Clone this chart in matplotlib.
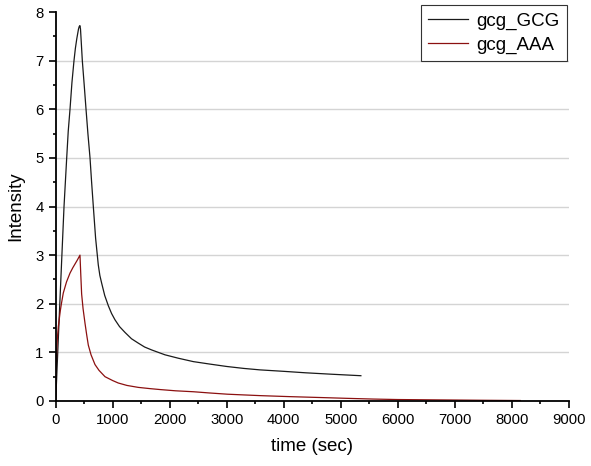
import matplotlib
matplotlib.use("Agg")
import matplotlib.pyplot as plt
from matplotlib.ticker import MultipleLocator

# ---- data ----
gcg_GCG_t = [0, 50, 105, 146, 193, 220, 251, 285, 321, 345, 370, 400, 412, 425,
             435, 445, 467, 500, 532, 565, 602, 630, 660, 700, 747, 775, 807, 860,
             923, 980, 1040, 1120, 1216, 1330, 1449, 1560, 1684, 1800, 1917, 2150,
             2414, 2700, 3000, 3300, 3584, 4000, 4384, 4850, 5354]
gcg_GCG_y = [0.0, 1.4, 2.9, 4.0, 5.0, 5.55, 6.0, 6.55, 7.0, 7.25, 7.45, 7.65, 7.70, 7.72,
             7.65, 7.45, 7.0, 6.5, 6.0, 5.5, 5.0, 4.5, 4.0, 3.35, 2.8, 2.58, 2.42, 2.17,
             1.96, 1.80, 1.67, 1.53, 1.41, 1.28, 1.19, 1.11, 1.05, 1.00, 0.95, 0.88,
             0.81, 0.76, 0.71, 0.67, 0.64, 0.61, 0.58, 0.55, 0.52]

gcg_AAA_t = [0, 5, 10, 18, 30, 46, 80, 100, 133, 190, 251, 300, 340, 380, 426,
             440, 455, 480, 514, 545, 572, 620, 689, 760, 865, 1000, 1098, 1250,
             1449, 1650, 1834, 2100, 2421, 2700, 3011, 3300, 3598, 4100, 4686,
             5100, 5568, 6000, 6500, 7000, 7500, 8150]
gcg_AAA_y = [0.0, 0.45, 0.75, 1.05, 1.3, 1.53, 1.85, 2.0, 2.22, 2.45, 2.63, 2.74, 2.82, 2.9, 3.0,
             2.6, 2.2, 1.9, 1.6, 1.35, 1.15, 0.95, 0.75, 0.63, 0.50, 0.42, 0.37, 0.32,
             0.28, 0.255, 0.235, 0.21, 0.19, 0.165, 0.14, 0.125, 0.11, 0.09, 0.07,
             0.055, 0.04, 0.03, 0.025, 0.02, 0.015, 0.01]

series_labels = ["gcg_GCG", "gcg_AAA"]
x_label = "time (sec)"
y_label = "Intensity"
grid_levels = [1, 2, 3, 4, 5, 6, 7]

plt.rcParams['font.family'] = ['Liberation Sans', 'DejaVu Sans']

fig = plt.figure(figsize=(5.91, 4.66), dpi=100)
ax = fig.add_axes([55.7/591, 1 - 401/466, (568.7 - 55.7)/591, (401 - 12)/466])

for v in grid_levels:
    ax.axhline(v, color='#d4d4d4', lw=1.0, zorder=0)

ax.plot(gcg_GCG_t, gcg_GCG_y, color='#1a1a1a', lw=0.9, label=series_labels[0])
ax.plot(gcg_AAA_t, gcg_AAA_y, color='#8b1010', lw=0.9, label=series_labels[1])

ax.set_xlim(0, 9000)
ax.set_ylim(0, 8)
ax.xaxis.set_major_locator(MultipleLocator(1000))
ax.xaxis.set_minor_locator(MultipleLocator(500))
ax.yaxis.set_major_locator(MultipleLocator(1))
ax.yaxis.set_minor_locator(MultipleLocator(0.5))

for s in ['top', 'right']:
    ax.spines[s].set_visible(False)
for s in ['left', 'bottom']:
    ax.spines[s].set_linewidth(1.3)
    ax.spines[s].set_color('black')

ax.tick_params(which='major', direction='out', length=4.8, width=1.2, labelsize=10.7, pad=4)
ax.tick_params(which='minor', direction='out', length=2.4, width=1.2)

ax.set_xlabel(x_label, fontsize=13.5, labelpad=8)
ax.set_ylabel(y_label, fontsize=13.5, labelpad=8)

leg = ax.legend(loc='upper right', bbox_to_anchor=(567/591, 1 - 5/466),
                bbox_transform=fig.transFigure, borderaxespad=0,
                fontsize=13.5, fancybox=False, framealpha=1,
                edgecolor='#333333', handlelength=2.1, labelspacing=0.35,
                borderpad=0.4, handletextpad=0.45)
leg.get_frame().set_linewidth(0.8)

fig.savefig("out.png", dpi=100)
